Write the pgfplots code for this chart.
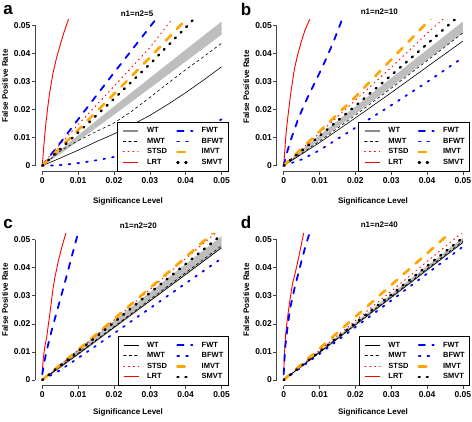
\documentclass[border=0pt]{standalone}
\usepackage{fontspec}
\setmainfont{Liberation Sans}
\usepackage{pgfplots}
\pgfplotsset{compat=1.18}

\definecolor{rorange}{RGB}{255,165,0}
\definecolor{rblue}{RGB}{0,0,255}
\definecolor{rred}{RGB}{255,0,0}
\definecolor{bandgray}{RGB}{190,190,190}
\definecolor{axgray}{RGB}{70,70,70}

\tikzset{
 sWT/.style={black, line width=0.6pt},
 sWTgray/.style={black!45, line width=1.8pt},
 sMWT/.style={black, line width=0.6pt, line cap=round, dash pattern=on 2.6pt off 2.9pt},
 sSTSD/.style={rred, line width=1pt, line cap=round, dash pattern=on 0.9pt off 4pt},
 sLRT/.style={rred, line width=0.9pt},
 sFWT/.style={rblue, line width=1.8pt, line cap=round, dash pattern=on 6.2pt off 7.4pt},
 sBFWT/.style={rblue, line width=1.8pt, line cap=round, dash pattern=on 1.7pt off 7.1pt},
 sIMVT/.style={rorange, line width=2.6pt, line cap=round, dash pattern=on 7.4pt off 8.6pt},
 sSMVT/.style={black, line width=2.4pt, line cap=round, dash pattern=on 1.1pt off 6.9pt},
}

\pgfplotsset{
 panel/.style={
   scale only axis, width=193.6pt, height=151.6pt,
   xmin=-0.002, xmax=0.052, ymin=-0.002, ymax=0.052,
   axis line style={draw=none},
   xtick={0,0.01,0.02,0.03,0.04,0.05},
   ytick={0,0.01,0.02,0.03,0.04,0.05},
   xticklabels={0,0.01,0.02,0.03,0.04,0.05},
   yticklabels={0,0.01,0.02,0.03,0.04,0.05},
   scaled ticks=false,
   /pgf/number format/assume math mode=true,
   xtick pos=bottom, ytick pos=left, tick align=outside,
   major tick length=3.5pt,
   tick style={axgray, line width=0.6pt},
   ticklabel style={font=\bfseries\fontsize{8.5}{10}\selectfont, text=black},
   xticklabel style={inner sep=1pt, yshift=-1.5pt},
   yticklabel style={inner sep=1pt},
   clip mode=individual,
   legend columns=2,
   legend cell align=left,
   legend style={at={(rel axis cs:1,0)}, anchor=south east, draw=black, line width=0.7pt,
     fill=white, inner xsep=5pt, inner ysep=5pt,
     font=\bfseries\fontsize{7.5}{9}\selectfont,
     nodes={inner sep=0pt, text height=5.5pt, text depth=1.5pt},
     row sep=3.5pt,
     /tikz/every odd column/.append style={column sep=8pt},
     /tikz/every even column/.append style={column sep=9pt}},
   legend image code/.code={\draw[##1] (0pt,0pt) -- (15pt,0pt);},
 }
}

\newcommand\legendset[1]{%
 \addlegendimage{#1}\addlegendentry{WT}
 \addlegendimage{sFWT}\addlegendentry{FWT}
 \addlegendimage{sMWT}\addlegendentry{MWT}
 \addlegendimage{sBFWT}\addlegendentry{BFWT}
 \addlegendimage{sSTSD}\addlegendentry{STSD}
 \addlegendimage{sIMVT}\addlegendentry{IMVT}
 \addlegendimage{sLRT}\addlegendentry{LRT}
 \addlegendimage{sSMVT}\addlegendentry{SMVT}
}
\newcommand\axlines{%
 \draw[axgray, line width=0.6pt] (axis cs:-0.002,0) -- (axis cs:-0.002,0.05);
 \draw[axgray, line width=0.6pt] (axis cs:0,-0.002) -- (axis cs:0.05,-0.002);
}

\begin{document}
\begin{tikzpicture}
\path[use as bounding box] (0,0) rectangle (472pt,422pt);

% ---------------- panel a ----------------
\begin{axis}[panel, at={(35.1pt,250.7pt)}, anchor=south west]
\legendset{sWTgray}
\addplot[fill=bandgray, draw=none, forget plot] coordinates {(0,0) (0.005,0.00564) (0.01,0.01085) (0.02,0.02108) (0.03,0.03122) (0.04,0.0413) (0.05,0.05135) (0.05,0.04665) (0.04,0.0371) (0.03,0.02758) (0.02,0.01812) (0.01,0.00875) (0.005,0.00416)} -- cycle;
\addplot[sWT, forget plot] coordinates {(0,0) (0.005,0.0027) (0.01,0.0055) (0.015,0.0085) (0.02,0.0113) (0.025,0.0145) (0.03,0.0179) (0.035,0.0218) (0.04,0.026) (0.045,0.0305) (0.05,0.0352)};
\addplot[sMWT, forget plot] coordinates {(0,0) (0.005,0.0052) (0.01,0.0089) (0.015,0.0121) (0.02,0.0152) (0.025,0.0194) (0.03,0.0243) (0.035,0.0293) (0.04,0.0342) (0.045,0.0388) (0.05,0.0436)};
\addplot[sSTSD, forget plot] coordinates {(0,0.0005) (0.005,0.0077) (0.01,0.0146) (0.02,0.0283) (0.03,0.042) (0.037,0.0535)};
\addplot[sLRT, forget plot] coordinates {(0,0) (0.0003,0.005) (0.0007,0.011) (0.001,0.015) (0.0015,0.0205) (0.002,0.0255) (0.003,0.033) (0.004,0.0385) (0.005,0.043) (0.006,0.0473) (0.0072,0.0518) (0.0078,0.054)};
\addplot[sFWT, forget plot] coordinates {(0,0) (0.005,0.0081) (0.01,0.0165) (0.02,0.0331) (0.03,0.0494) (0.0325,0.0535)};
\addplot[sBFWT, forget plot] coordinates {(0,0) (0.003,0.0001) (0.006,0.0003) (0.01,0.0009) (0.015,0.0019) (0.02,0.0031) (0.025,0.0047) (0.03,0.0066) (0.035,0.0087) (0.04,0.011) (0.045,0.0136) (0.05,0.0165)};
\addplot[sIMVT, forget plot] coordinates {(0,0) (0.01,0.0127) (0.02,0.0255) (0.03,0.0385) (0.04,0.052) (0.0412,0.0536)};
\addplot[sSMVT, forget plot] coordinates {(0,0) (0.01,0.0118) (0.02,0.0238) (0.03,0.0362) (0.04,0.0492) (0.043,0.0532)};
\axlines
\end{axis}

% ---------------- panel b ----------------
\begin{axis}[panel, at={(276.5pt,250.7pt)}, anchor=south west]
\legendset{sWTgray}
\addplot[fill=bandgray, draw=none, forget plot] coordinates {(0,0) (0.005,0.00564) (0.01,0.01085) (0.02,0.02108) (0.03,0.03122) (0.04,0.0413) (0.05,0.05135) (0.05,0.04735) (0.04,0.0377) (0.03,0.02798) (0.02,0.01842) (0.01,0.00895) (0.005,0.00426)} -- cycle;
\addplot[sWT, forget plot] coordinates {(0,0) (0.01,0.0082) (0.02,0.0170) (0.03,0.026) (0.04,0.0352) (0.05,0.0444)};
\addplot[sMWT, forget plot] coordinates {(0,0) (0.01,0.0087) (0.02,0.018) (0.03,0.0276) (0.04,0.0374) (0.05,0.0473)};
\addplot[sSTSD, forget plot] coordinates {(0,0) (0.01,0.0116) (0.02,0.0233) (0.03,0.035) (0.04,0.0471) (0.046,0.054)};
\addplot[sLRT, forget plot] coordinates {(0,0) (0.0003,0.005) (0.0006,0.0105) (0.001,0.0155) (0.0015,0.021) (0.002,0.026) (0.003,0.0345) (0.004,0.040) (0.005,0.0445) (0.006,0.0485) (0.0074,0.0525) (0.008,0.054)};
\addplot[sFWT, forget plot] coordinates {(0,0) (0.001,0.005) (0.002,0.0092) (0.004,0.0165) (0.006,0.0225) (0.008,0.0278) (0.01,0.033) (0.012,0.0385) (0.014,0.0445) (0.0163,0.0521) (0.017,0.054)};
\addplot[sBFWT, forget plot] coordinates {(0,0) (0.005,0.0022) (0.01,0.0055) (0.02,0.0135) (0.03,0.0215) (0.04,0.0298) (0.05,0.0385)};
\addplot[sIMVT, forget plot] coordinates {(0,0) (0.01,0.0122) (0.02,0.0245) (0.03,0.0378) (0.04,0.051) (0.042,0.0536)};
\addplot[sSMVT, forget plot] coordinates {(0,0) (0.01,0.0106) (0.02,0.0213) (0.03,0.0322) (0.04,0.0433) (0.0475,0.0518) (0.049,0.0535)};
\axlines
\end{axis}

% ---------------- panel c ----------------
\begin{axis}[panel, at={(35.1pt,36.4pt)}, anchor=south west]
\legendset{sWT}
\addplot[fill=bandgray, draw=none, forget plot] coordinates {(0,0) (0.005,0.00564) (0.01,0.01085) (0.02,0.02108) (0.03,0.03122) (0.04,0.0413) (0.05,0.0512) (0.05,0.0468) (0.04,0.0373) (0.03,0.0279) (0.02,0.0183) (0.01,0.0088) (0.005,0.0042)} -- cycle;
\addplot[sWT, forget plot] coordinates {(0,0) (0.01,0.0092) (0.02,0.0187) (0.03,0.0281) (0.04,0.0376) (0.05,0.0471)};
\addplot[sMWT, forget plot] coordinates {(0,0) (0.01,0.0095) (0.02,0.019) (0.03,0.0286) (0.04,0.0382) (0.05,0.0478)};
\addplot[sSTSD, forget plot] coordinates {(0,0) (0.01,0.0105) (0.02,0.0213) (0.03,0.0322) (0.04,0.0432) (0.05,0.0542)};
\addplot[sLRT, forget plot] coordinates {(0,0.003) (0.0003,0.008) (0.0008,0.0125) (0.0012,0.015) (0.002,0.0225) (0.003,0.0325) (0.0035,0.0364) (0.0045,0.0425) (0.0055,0.0475) (0.0066,0.0524) (0.007,0.054)};
\addplot[sFWT, forget plot] coordinates {(0,0.002) (0.0005,0.006) (0.0012,0.0103) (0.002,0.0145) (0.003,0.0195) (0.004,0.024) (0.0054,0.0305) (0.007,0.038) (0.0085,0.0453) (0.01,0.0524) (0.0104,0.054)};
\addplot[sBFWT, forget plot] coordinates {(0,0) (0.005,0.0035) (0.01,0.0078) (0.02,0.0166) (0.03,0.0255) (0.04,0.0344) (0.05,0.0433)};
\addplot[sIMVT, forget plot] coordinates {(0,0) (0.01,0.0107) (0.02,0.0217) (0.03,0.0327) (0.04,0.0437) (0.049,0.054)};
\addplot[sSMVT, forget plot] coordinates {(0,0) (0.01,0.0102) (0.02,0.0205) (0.03,0.031) (0.04,0.0413) (0.05,0.0517)};
\axlines
\end{axis}

% ---------------- panel d ----------------
\begin{axis}[panel, at={(276.5pt,36.4pt)}, anchor=south west]
\legendset{sWT}
\addplot[fill=bandgray, draw=none, forget plot] coordinates {(0,0) (0.005,0.00527) (0.01,0.01039) (0.02,0.02051) (0.03,0.03059) (0.04,0.04066) (0.05,0.0507) (0.05,0.0487) (0.04,0.03886) (0.03,0.02905) (0.02,0.01925) (0.01,0.00949) (0.005,0.00467)} -- cycle;
\addplot[sWT, forget plot] coordinates {(0,0) (0.01,0.0098) (0.02,0.0196) (0.03,0.0294) (0.04,0.0392) (0.05,0.049)};
\addplot[sMWT, forget plot] coordinates {(0,0) (0.01,0.0099) (0.02,0.0198) (0.03,0.0297) (0.04,0.0396) (0.05,0.0495)};
\addplot[sSTSD, forget plot] coordinates {(0,0) (0.01,0.0105) (0.02,0.0211) (0.03,0.0316) (0.04,0.0422) (0.05,0.0527)};
\addplot[sLRT, forget plot] coordinates {(0,0.002) (0.0002,0.009) (0.0005,0.0155) (0.001,0.0215) (0.0018,0.029) (0.0025,0.0345) (0.0032,0.038) (0.004,0.0425) (0.0048,0.0475) (0.0056,0.0524) (0.006,0.054)};
\addplot[sFWT, forget plot] coordinates {(0,0.002) (0.0004,0.0113) (0.001,0.018) (0.0018,0.0255) (0.003,0.0325) (0.004,0.0375) (0.005,0.0425) (0.006,0.0473) (0.0073,0.0527) (0.0076,0.054)};
\addplot[sBFWT, forget plot] coordinates {(0,0) (0.01,0.0093) (0.02,0.0188) (0.03,0.0283) (0.04,0.0379) (0.05,0.0475)};
\addplot[sIMVT, forget plot] coordinates {(0,0) (0.01,0.0112) (0.02,0.0225) (0.03,0.0338) (0.04,0.0451) (0.0478,0.054)};
\addplot[sSMVT, forget plot] coordinates {(0,0) (0.01,0.0101) (0.02,0.0203) (0.03,0.0304) (0.04,0.0406) (0.05,0.0507)};
\axlines
\end{axis}

% ---------------- texts ----------------
\tikzset{lab/.style={font=\bfseries\fontsize{8}{9.6}\selectfont, inner sep=0pt},
         plab/.style={font=\bfseries\fontsize{17}{18}\selectfont, inner sep=0pt}}
\node[lab] at (137pt,408.7pt) {n1=n2=5};
\node[lab] at (379.3pt,410.3pt) {n1=n2=10};
\node[lab] at (138.3pt,196pt) {n1=n2=20};
\node[lab] at (379.3pt,197pt) {n1=n2=40};
\node[plab] at (8pt,412pt) {a};
\node[plab] at (246pt,413pt) {b};
\node[plab] at (8pt,198pt) {c};
\node[plab] at (246pt,200pt) {d};
\node[lab, rotate=90] at (5pt,336pt) {False Positive Rate};
\node[lab, rotate=90] at (246.3pt,335pt) {False Positive Rate};
\node[lab, rotate=90] at (5pt,122pt) {False Positive Rate};
\node[lab, rotate=90] at (246.3pt,122pt) {False Positive Rate};
\node[lab] at (128pt,220.3pt) {Significance Level};
\node[lab] at (373pt,220.3pt) {Significance Level};
\node[lab] at (128pt,9.3pt) {Significance Level};
\node[lab] at (373pt,9.3pt) {Significance Level};
\end{tikzpicture}
\end{document}
